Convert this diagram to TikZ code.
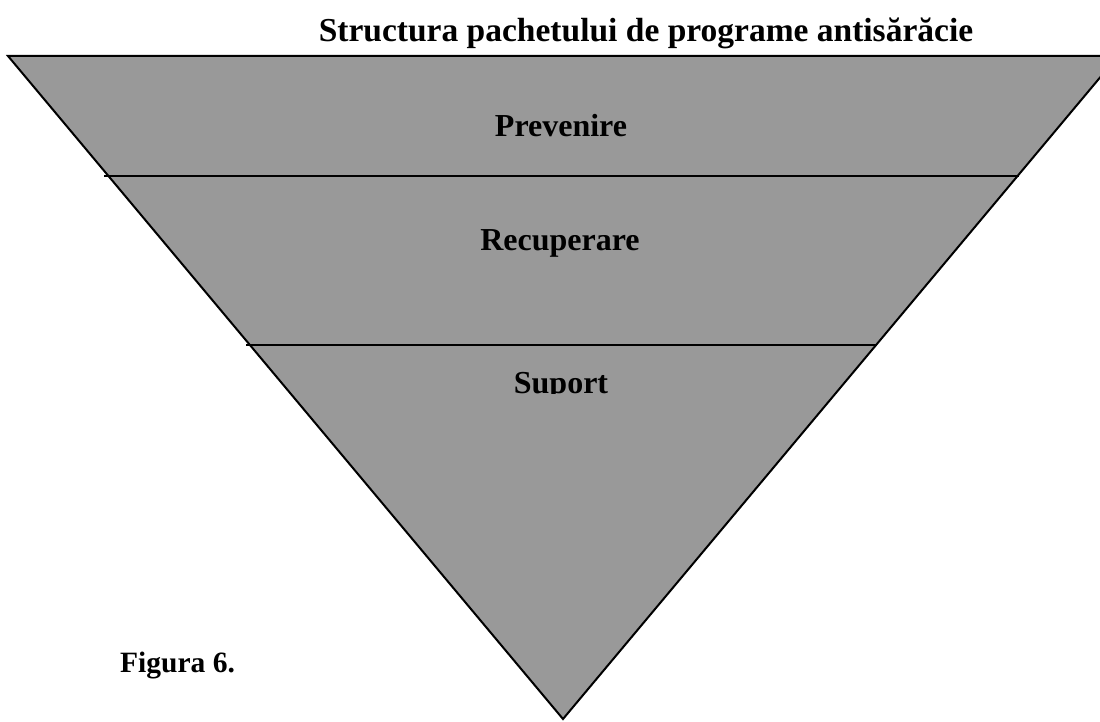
\documentclass[tikz,border=0pt]{standalone}
\usepackage{fontspec}
\setmainfont{Liberation Serif}
\definecolor{pyrfill}{RGB}{153,153,153}
\tikzset{
  lbl/.style={font=\fontsize{32}{38}\selectfont\bfseries, inner sep=0pt, anchor=base},
  edge/.style={draw=black, line width=2pt},
}
\begin{document}
\begin{tikzpicture}[x=1pt,y=-1pt]
\useasboundingbox (0,0) rectangle (1100,722);
\clip (0,0) rectangle (1100,722);
\coordinate (tl) at (8,56);
\coordinate (tr) at (1118,56);
\coordinate (ap) at (563,719);
\fill[pyrfill] (tl) -- (tr) -- (ap) -- cycle;
\draw[edge, line join=miter] (tl) -- (tr) -- (ap) -- cycle;
\coordinate (a1) at (104,176);
\coordinate (b1) at (1019,176);
\coordinate (a2) at (246,345);
\coordinate (b2) at (876,345);
\draw[edge] (a1) -- (b1);
\draw[edge] (a2) -- (b2);
\node[lbl, font=\fontsize{33.5}{40}\selectfont\bfseries] (title) at (646,42) {Structura pachetului de programe antisărăcie};
\node[lbl] (prev) at (561,137) {Prevenire};
\node[lbl] (rec) at (560,250) {Recuperare};
\begin{scope}
\clip (0,0) rectangle (1100,393);
\node[lbl] (sup) at (561,393) {Suport};
\end{scope}
\node[lbl, anchor=base west, font=\fontsize{29.5}{36}\selectfont\bfseries] (fig) at (120,672) {Figura 6.};
\end{tikzpicture}
\end{document}
